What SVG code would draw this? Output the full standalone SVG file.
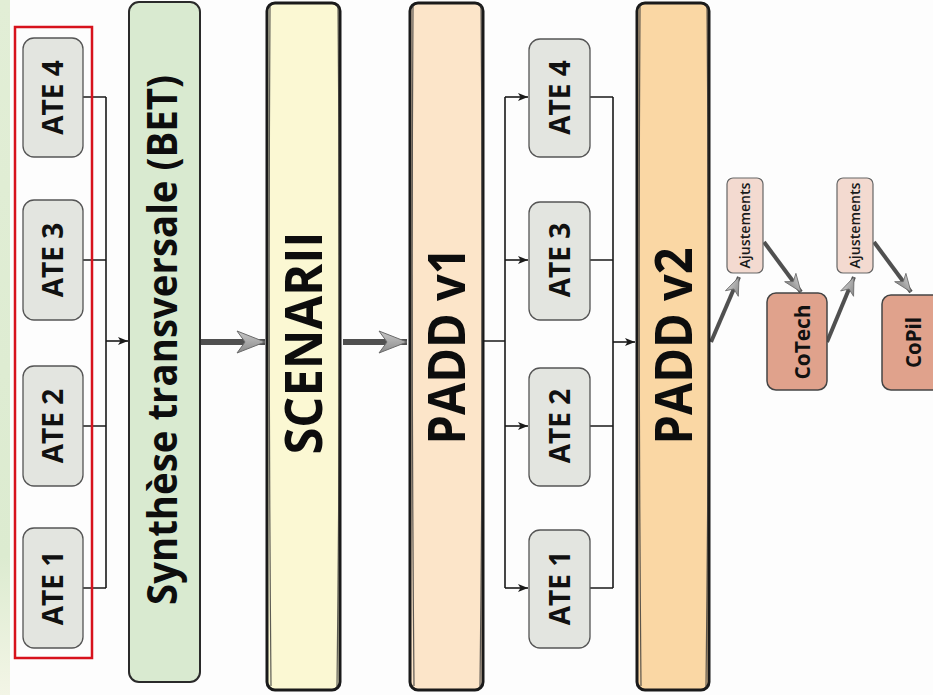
<svg xmlns="http://www.w3.org/2000/svg" width="933" height="695" viewBox="0 0 933 695">
  <defs>
    <linearGradient id="strip" x1="0" y1="0" x2="0" y2="1">
      <stop offset="0" stop-color="#e2eed6"/>
      <stop offset="0.8" stop-color="#dcebd0"/>
      <stop offset="1" stop-color="#f3f5e6"/>
    </linearGradient>
    <linearGradient id="headfill" x1="0" y1="0" x2="0" y2="1">
      <stop offset="0" stop-color="#c8c8c8"/>
      <stop offset="1" stop-color="#8a8a8a"/>
    </linearGradient>
    <marker id="small" markerUnits="userSpaceOnUse" markerWidth="10" markerHeight="8" viewBox="0 0 10 8" refX="10" refY="4" orient="auto">
      <path d="M0,0 L10,4 L0,8 L2.5,4 z" fill="#1a1a1a"/>
    </marker>
    <marker id="big" markerUnits="userSpaceOnUse" markerWidth="30" markerHeight="24" viewBox="0 0 30 24" refX="29" refY="12" orient="auto">
      <path d="M1,1 L29,12 L1,23 L9,12 z" fill="url(#headfill)" stroke="#6a6a6a" stroke-width="1"/>
    </marker>
    <marker id="mid" markerUnits="userSpaceOnUse" markerWidth="20" markerHeight="16" viewBox="0 0 20 16" refX="19" refY="8" orient="auto">
      <path d="M1,1 L19,8 L1,15 L6,8 z" fill="url(#headfill)" stroke="#6a6a6a" stroke-width="0.8"/>
    </marker>
  </defs>
  <style>
    .ate rect { fill:#e3e5e0; stroke:#555; stroke-width:1.3; }
    .ate text { font-family:"Open Sans","Liberation Sans",sans-serif; font-weight:700; font-size:28px; fill:#111; }
    .big text { font-family:"Open Sans","Liberation Sans",sans-serif; font-weight:700; fill:#0d0d0d; }
    .sketch { stroke:#1a1a1a; stroke-width:3; }
    .sketch2 { fill:none; stroke:#333; stroke-width:1.2; opacity:0.8; }
    .ajust rect { fill:#f3dad0; stroke:#666; stroke-width:1.2; }
    .ajust text { font-family:"Open Sans","Liberation Sans",sans-serif; font-size:14px; font-weight:600; fill:#1a1a1a; }
    .com rect { fill:#e0a28c; stroke:#444; stroke-width:1.5; }
    .com text { font-family:"Open Sans","Liberation Sans",sans-serif; font-weight:700; font-size:22px; fill:#111; }
    .thin { fill:none; stroke:#1a1a1a; stroke-width:1.6; }
    .thick { fill:none; stroke:#505050; stroke-width:6; }
    .diag { fill:none; stroke:#505050; stroke-width:4; }
  </style>
  <rect x="0" y="0" width="933" height="695" fill="#fdfdfd"/>
  <rect x="0" y="0" width="10" height="695" fill="url(#strip)"/>

  <!-- connectors -->
  <g id="connectors">
    <path class="thin" d="M83,97 H106 M83,260 H106 M83,426 H106 M83,588 H106 M106,97 V588"/>
    <path class="thin" d="M106,341 H128" marker-end="url(#small)"/>
    <path class="thick" d="M201,342 H265" marker-end="url(#big)"/>
    <path class="thick" d="M343,342 H407" marker-end="url(#big)"/>
    <path class="thin" d="M484,341 H505 M505,97 V588"/>
    <path class="thin" d="M505,97 H528" marker-end="url(#small)"/>
    <path class="thin" d="M505,260 H528" marker-end="url(#small)"/>
    <path class="thin" d="M505,426 H528" marker-end="url(#small)"/>
    <path class="thin" d="M505,588 H528" marker-end="url(#small)"/>
    <path class="thin" d="M590,97 H613 M590,260 H613 M590,426 H613 M590,588 H613 M613,97 V588"/>
    <path class="thin" d="M613,342 H635" marker-end="url(#small)"/>
    <path class="diag" d="M711,342 L739,277" marker-end="url(#mid)"/>
    <path class="diag" d="M764,242 L801,292" marker-end="url(#mid)"/>
    <path class="diag" d="M827,342 L854,277" marker-end="url(#mid)"/>
    <path class="diag" d="M874,242 L911,292" marker-end="url(#mid)"/>
  </g>

  <!-- red group frame -->
  <rect id="frame" x="15" y="27" width="77" height="631" fill="none" stroke="#d7121c" stroke-width="2.5"/>

  <g id="ate4-left" class="ate">
    <rect x="23" y="38" width="60" height="119" rx="11"/>
    <text transform="translate(63,97.5) rotate(-90)" text-anchor="middle">ATE 4</text>
  </g>
  <g id="ate3-left" class="ate">
    <rect x="23" y="200" width="60" height="120" rx="11"/>
    <text transform="translate(63,260) rotate(-90)" text-anchor="middle">ATE 3</text>
  </g>
  <g id="ate2-left" class="ate">
    <rect x="23" y="366" width="60" height="120" rx="11"/>
    <text transform="translate(63,426) rotate(-90)" text-anchor="middle">ATE 2</text>
  </g>
  <g id="ate1-left" class="ate">
    <rect x="23" y="528" width="60" height="120" rx="11"/>
    <text transform="translate(63,588) rotate(-90)" text-anchor="middle">ATE 1</text>
  </g>

  <g id="bet" class="big">
    <rect x="129" y="2" width="71" height="680" rx="10" fill="#d9ead0" stroke="#2a2a2a" stroke-width="2"/>
    <text transform="translate(177,340) rotate(-90)" text-anchor="middle" font-size="41" textLength="530" lengthAdjust="spacingAndGlyphs">Synthèse transversale (BET)</text>
  </g>

  <g id="scenarii" class="big">
    <rect class="sketch" x="267" y="3" width="73" height="687" rx="8" fill="#fbf8d3"/>
    <path class="sketch2" d="M270,6 Q268,340 271,686 M338,5 Q341,350 337,687"/>
    <text transform="translate(322,343) rotate(-90)" text-anchor="middle" font-size="52" textLength="223" lengthAdjust="spacingAndGlyphs">SCENARII</text>
  </g>

  <g id="padd-v1" class="big">
    <rect class="sketch" x="410" y="3" width="73" height="687" rx="8" fill="#fce5c9"/>
    <path class="sketch2" d="M413,6 Q411,340 414,686 M481,5 Q484,350 480,687"/>
    <text transform="translate(465,346) rotate(-90)" text-anchor="middle" font-size="52" textLength="197" lengthAdjust="spacingAndGlyphs">PADD v1</text>
  </g>

  <g id="ate4-right" class="ate">
    <rect x="529" y="39" width="61" height="118" rx="11"/>
    <text transform="translate(570,97.5) rotate(-90)" text-anchor="middle">ATE 4</text>
  </g>
  <g id="ate3-right" class="ate">
    <rect x="529" y="202" width="61" height="118" rx="11"/>
    <text transform="translate(570,260) rotate(-90)" text-anchor="middle">ATE 3</text>
  </g>
  <g id="ate2-right" class="ate">
    <rect x="529" y="368" width="61" height="118" rx="11"/>
    <text transform="translate(570,426) rotate(-90)" text-anchor="middle">ATE 2</text>
  </g>
  <g id="ate1-right" class="ate">
    <rect x="529" y="530" width="61" height="118" rx="11"/>
    <text transform="translate(570,588) rotate(-90)" text-anchor="middle">ATE 1</text>
  </g>

  <g id="padd-v2" class="big">
    <rect class="sketch" x="637" y="3" width="72" height="687" rx="8" fill="#fad7a4"/>
    <path class="sketch2" d="M640,6 Q638,340 641,686 M707,5 Q710,350 706,687"/>
    <text transform="translate(692,346) rotate(-90)" text-anchor="middle" font-size="52" textLength="197" lengthAdjust="spacingAndGlyphs">PADD v2</text>
  </g>

  <g id="ajustements-1" class="ajust">
    <rect x="727" y="178" width="36" height="95" rx="6"/>
    <text transform="translate(750,225.5) rotate(-90)" text-anchor="middle" textLength="86" lengthAdjust="spacingAndGlyphs">Ajustements</text>
  </g>
  <g id="cotech" class="com">
    <rect x="767" y="293" width="60" height="97" rx="9"/>
    <text transform="translate(810,342) rotate(-90)" text-anchor="middle" textLength="75" lengthAdjust="spacingAndGlyphs">CoTech</text>
  </g>
  <g id="ajustements-2" class="ajust">
    <rect x="837" y="178" width="36" height="95" rx="6"/>
    <text transform="translate(860,225.5) rotate(-90)" text-anchor="middle" textLength="86" lengthAdjust="spacingAndGlyphs">Ajustements</text>
  </g>
  <g id="copil" class="com">
    <rect x="882" y="295" width="60" height="95" rx="9"/>
    <text transform="translate(921,342.5) rotate(-90)" text-anchor="middle" textLength="51" lengthAdjust="spacingAndGlyphs">CoPil</text>
  </g>
</svg>
